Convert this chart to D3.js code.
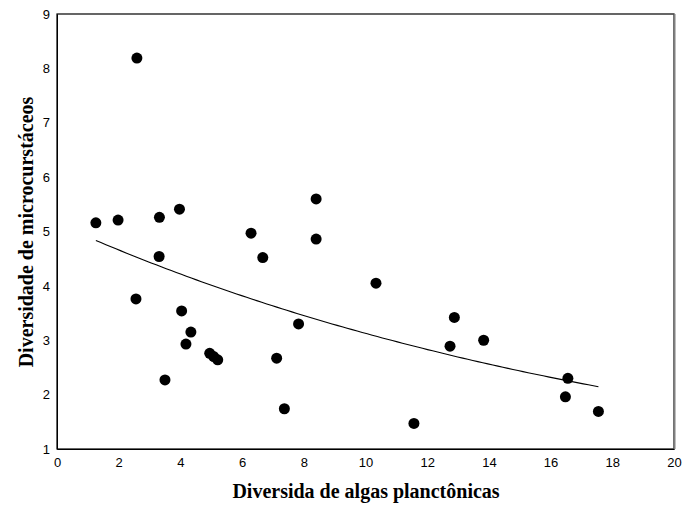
<!DOCTYPE html>
<html>
<head>
<meta charset="utf-8">
<script src="https://cdn.jsdelivr.net/npm/d3@7"></script>
<style>
  body { margin: 0; background: #fff; }
  .tick text { font-family: "Liberation Sans", Arial, sans-serif; font-size: 13px; fill: #000; }
  .axis-title { font-family: "Liberation Serif", "Times New Roman", serif; font-size: 20px; font-weight: bold; fill: #000; }
</style>
</head>
<body>
<svg width="684" height="506"></svg>
<script>
// algas planctônicas (x) vs microcrustáceos (y)
const algas = [1.26, 1.98, 2.59, 2.56, 3.32, 3.31, 3.97, 3.50, 4.04, 4.34, 4.18, 4.95, 5.08, 5.21,
               6.29, 6.67, 7.12, 7.37, 7.83, 8.40, 8.40, 10.34, 11.57, 12.74, 12.88, 13.83, 16.56, 16.48, 17.55];
const microcrustaceos = [5.16, 5.21, 8.19, 3.76, 5.26, 4.54, 5.41, 2.27, 3.54, 3.15, 2.93, 2.76, 2.70, 2.64,
                         4.97, 4.52, 2.67, 1.74, 3.30, 5.60, 4.86, 4.05, 1.47, 2.89, 3.42, 3.00, 2.30, 1.96, 1.69];
const xTicks = [0, 2, 4, 6, 8, 10, 12, 14, 16, 18, 20];
const yTicks = [1, 2, 3, 4, 5, 6, 7, 8, 9];
// linha de tendência exponencial y = a*exp(b*x), coeficientes
const trendA = 5.15, trendB = -0.0499;

const svg = d3.select('svg');
const margin = {left: 57, top: 14, right: 10, bottom: 57};
const W = 684, H = 506;

const x = d3.scaleLinear().domain([0, 20]).range([margin.left, W - margin.right]);
const y = d3.scaleLinear().domain([1, 9]).range([H - margin.bottom, margin.top]);

// moldura
svg.append('rect')
    .attr('x', x(0)).attr('y', y(9))
    .attr('width', x(20) - x(0)).attr('height', y(1) - y(9))
    .attr('fill', 'none').attr('stroke', '#000').attr('stroke-width', 1.2);
svg.append('line')
    .attr('x1', x(20) + 0.5).attr('x2', x(20) + 0.5)
    .attr('y1', y(9)).attr('y2', y(1))
    .attr('stroke', '#808080').attr('stroke-width', 2);

svg.append('g')
    .attr('transform', `translate(0,${y(1)})`)
    .call(d3.axisBottom(x).tickValues(xTicks).tickSize(0).tickPadding(9))
    .call(g => g.select('.domain').attr('stroke', '#000'));

svg.append('g')
    .attr('transform', `translate(${x(0)},0)`)
    .call(d3.axisLeft(y).tickValues(yTicks).tickSize(0).tickPadding(7))
    .call(g => g.select('.domain').attr('stroke', '#000'));

const [x0, x1] = d3.extent(algas);
const trend = d3.range(0, 101).map(i => x0 + (x1 - x0) * i / 100);

svg.append('path')
    .datum(trend)
    .attr('fill', 'none')
    .attr('stroke', '#000')
    .attr('stroke-width', 1.1)
    .attr('d', d3.line().x(d => x(d)).y(d => y(trendA * Math.exp(trendB * d))));

svg.append('g')
    .selectAll('circle')
    .data(algas)
    .join('circle')
    .attr('cx', d => x(d))
    .attr('cy', (d, i) => y(microcrustaceos[i]))
    .attr('r', 5.5)
    .attr('fill', '#000');

svg.append('text')
    .attr('class', 'axis-title')
    .attr('x', 366).attr('y', 498)
    .attr('text-anchor', 'middle')
    .text('Diversida de algas planctônicas');

svg.append('text')
    .attr('class', 'axis-title')
    .attr('transform', 'translate(33,232) rotate(-90)')
    .attr('text-anchor', 'middle')
    .text('Diversidade de microcurstáceos');
</script>
</body>
</html>
